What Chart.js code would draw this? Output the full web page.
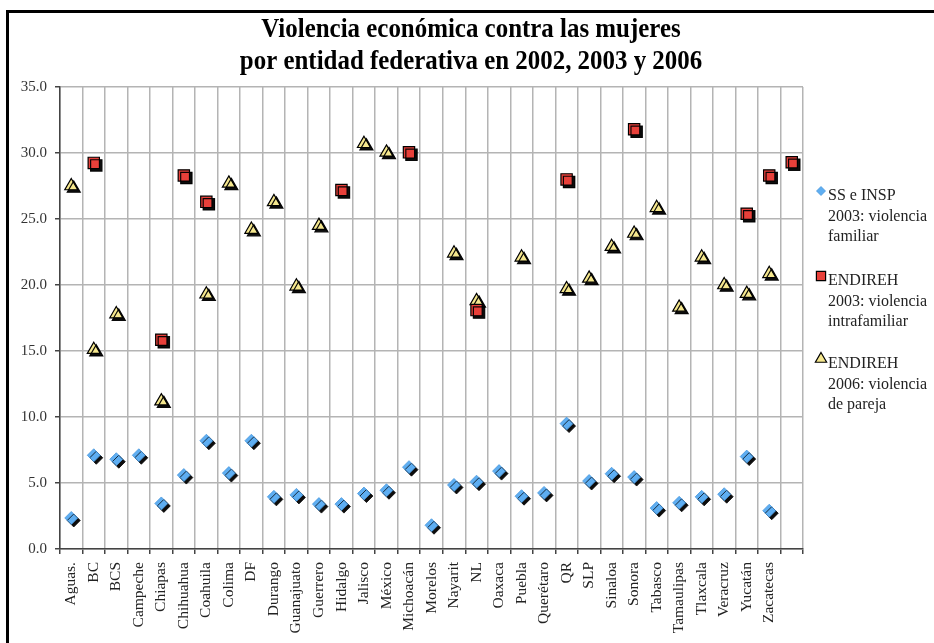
<!DOCTYPE html>
<html>
<head>
<meta charset="utf-8">
<script src="https://cdn.jsdelivr.net/npm/chart.js@4.4.0/dist/chart.umd.min.js"></script>
<style>
  html, body { margin: 0; padding: 0; background: #fff; }
  #wrap { width: 934px; height: 643px; }
</style>
</head>
<body>
<div id="wrap"><canvas id="chart" width="934" height="643"></canvas></div>
<script>
// Violencia económica contra las mujeres - scatter por entidad

const estados = ['Aguas.', 'BC', 'BCS', 'Campeche', 'Chiapas', 'Chihuahua', 'Coahuila', 'Colima', 'DF',
    'Durango', 'Guanajuato', 'Guerrero', 'Hidalgo', 'Jalisco', 'México', 'Michoacán', 'Morelos',
    'Nayarit', 'NL', 'Oaxaca', 'Puebla', 'Querétaro', 'QR', 'SLP', 'Sinaloa', 'Sonora', 'Tabasco',
    'Tamaulipas', 'Tlaxcala', 'Veracruz', 'Yucatán', 'Zacatecas', ''];

// SS e INSP 2003: violencia familiar
const ssInsp2003 = [2.35, 7.1, 6.8, 7.1, 3.45, 5.6, 8.2, 5.75, 8.2, 3.95, 4.1, 3.4, 3.4, 4.2, 4.45, 6.2, 1.8,
    4.85, 5.1, 5.9, 4.0, 4.25, 9.5, 5.15, 5.7, 5.45, 3.1, 3.5, 3.95, 4.15, 7.0, 2.9, null];

// ENDIREH 2003: violencia intrafamiliar
const endireh2003 = [null, 29.25, null, null, 15.85, 28.3, 26.3, null, null, null, null, null, 27.2, null, null, 30.05, null,
    null, 18.1, null, null, null, 28.0, null, null, 31.8, null, null, null, null, 25.4, 28.3, 29.3];

// ENDIREH 2006: violencia de pareja
const endireh2006 = [27.5, 15.1, 17.8, null, 11.2, null, 19.3, 27.7, 24.2, 26.3, 19.9, 24.5, null, 30.7, 30.05, null, null,
    22.4, 18.8, null, 22.1, null, 19.7, 20.5, 22.9, 23.9, 25.85, 18.3, 22.1, 20.0, 19.35, 20.85, null];

const titleLines = ['Violencia económica contra las mujeres', 'por entidad federativa en 2002, 2003 y 2006'];
const legendLines = [
    ['SS e INSP', '2003: violencia', 'familiar'],
    ['ENDIREH', '2003: violencia', 'intrafamiliar'],
    ['ENDIREH', '2006: violencia', 'de pareja']
];

const serif = '"Liberation Serif", "Times New Roman", serif';

// black drop shadow behind the markers
const shadowPlugin = {
    id: 'markerShadow',
    beforeDatasetsDraw(chart) {
        const ctx = chart.ctx;
        ctx.save();
        ctx.shadowColor = 'rgba(0, 0, 0, 0.95)';
        ctx.shadowOffsetX = 2.5;
        ctx.shadowOffsetY = 2.5;
        ctx.shadowBlur = 0.5;
    },
    afterDatasetsDraw(chart) {
        chart.ctx.restore();
    }
};

// frame, title and the multi-line legend on the right
const decorPlugin = {
    id: 'decor',
    afterDraw(chart) {
        const ctx = chart.ctx;
        ctx.save();
        ctx.strokeStyle = '#000';
        ctx.lineWidth = 3;
        ctx.strokeRect(7.5, 11.5, 1000, 1000);

        // title is a bit condensed in the original
        ctx.fillStyle = '#000';
        ctx.font = 'bold 28px ' + serif;
        ctx.textAlign = 'center';
        ctx.textBaseline = 'middle';
        [30, 62].forEach(function(y, i) {
            ctx.save();
            ctx.translate(471, y);
            ctx.scale(0.89, 1);
            ctx.fillText(titleLines[i], 0, 0);
            ctx.restore();
        });

        ctx.font = '16px ' + serif;
        ctx.textAlign = 'left';
        const tops = [196, 281, 364];
        chart.data.datasets.forEach(function(ds, i) {
            const y0 = tops[i];
            ctx.fillStyle = ds.backgroundColor;
            ctx.strokeStyle = ds.borderColor;
            ctx.lineWidth = ds.borderWidth;
            ctx.beginPath();
            drawMarker(ctx, ds.pointStyle, 821, y0 - 5, ds.legendRadius);
            ctx.fill();
            ctx.stroke();
            ctx.fillStyle = '#222';
            legendLines[i].forEach(function(line, j) {
                ctx.fillText(line, 828, y0 + j * 20.5);
            });
        });
        ctx.restore();
    }
};

function drawMarker(ctx, style, x, y, r) {
    if (style === 'rect') {
        const s = Math.SQRT1_2 * r;
        ctx.rect(x - s, y - s, 2 * s, 2 * s);
    } else if (style === 'rectRot') {
        ctx.moveTo(x, y - r);
        ctx.lineTo(x + r, y);
        ctx.lineTo(x, y + r);
        ctx.lineTo(x - r, y);
        ctx.closePath();
    } else {
        ctx.moveTo(x, y - r);
        ctx.lineTo(x + r * 0.866, y + r * 0.5);
        ctx.lineTo(x - r * 0.866, y + r * 0.5);
        ctx.closePath();
    }
}

new Chart(document.getElementById('chart'), {
    type: 'line',
    data: {
        labels: estados,
        datasets: [
            {
                label: 'SS e INSP 2003: violencia familiar',
                data: ssInsp2003,
                showLine: false,
                pointStyle: 'rectRot',
                pointRadius: 6.5,
                legendRadius: 4.5,
                backgroundColor: '#5eaef2',
                borderColor: '#4b98dc',
                borderWidth: 0.8,
                order: 1
            },
            {
                label: 'ENDIREH 2003: violencia intrafamiliar',
                data: endireh2003,
                showLine: false,
                pointStyle: 'rect',
                pointRadius: 8,
                legendRadius: 6.5,
                backgroundColor: '#e8403a',
                borderColor: '#000',
                borderWidth: 1.2,
                order: 0
            },
            {
                label: 'ENDIREH 2006: violencia de pareja',
                data: endireh2006,
                showLine: false,
                pointStyle: 'triangle',
                pointRadius: 7.5,
                legendRadius: 6.5,
                backgroundColor: '#f5e78e',
                borderColor: '#000',
                borderWidth: 1.2,
                order: 2
            }
        ]
    },
    options: {
        responsive: false,
        animation: false,
        layout: {
            padding: { left: 0, top: 87, right: 131, bottom: 0 }
        },
        plugins: {
            legend: { display: false },
            title: { display: false },
            tooltip: { enabled: false }
        },
        scales: {
            x: {
                type: 'category',
                offset: true,
                grid: {
                    offset: true,
                    color: '#b4b4b4',
                    lineWidth: 1.5,
                    tickLength: 5,
                    tickColor: '#444'
                },
                border: { color: '#444', width: 1.5 },
                ticks: {
                    autoSkip: false,
                    maxRotation: 90,
                    minRotation: 90,
                    padding: 8,
                    color: '#222',
                    font: { family: serif, size: 15.5 }
                },
                afterFit: function(scale) { scale.height = 94; }
            },
            y: {
                min: 0,
                max: 35,
                grid: {
                    color: '#b4b4b4',
                    lineWidth: 1.5,
                    tickLength: 5,
                    tickColor: '#444'
                },
                border: { color: '#444', width: 1.5 },
                ticks: {
                    stepSize: 5,
                    padding: 8,
                    color: '#333',
                    font: { family: serif, size: 15 },
                    callback: function(value) { return value.toFixed(1); }
                },
                afterFit: function(scale) { scale.width = 60; }
            }
        }
    },
    plugins: [shadowPlugin, decorPlugin]
});
</script>
</body>
</html>
